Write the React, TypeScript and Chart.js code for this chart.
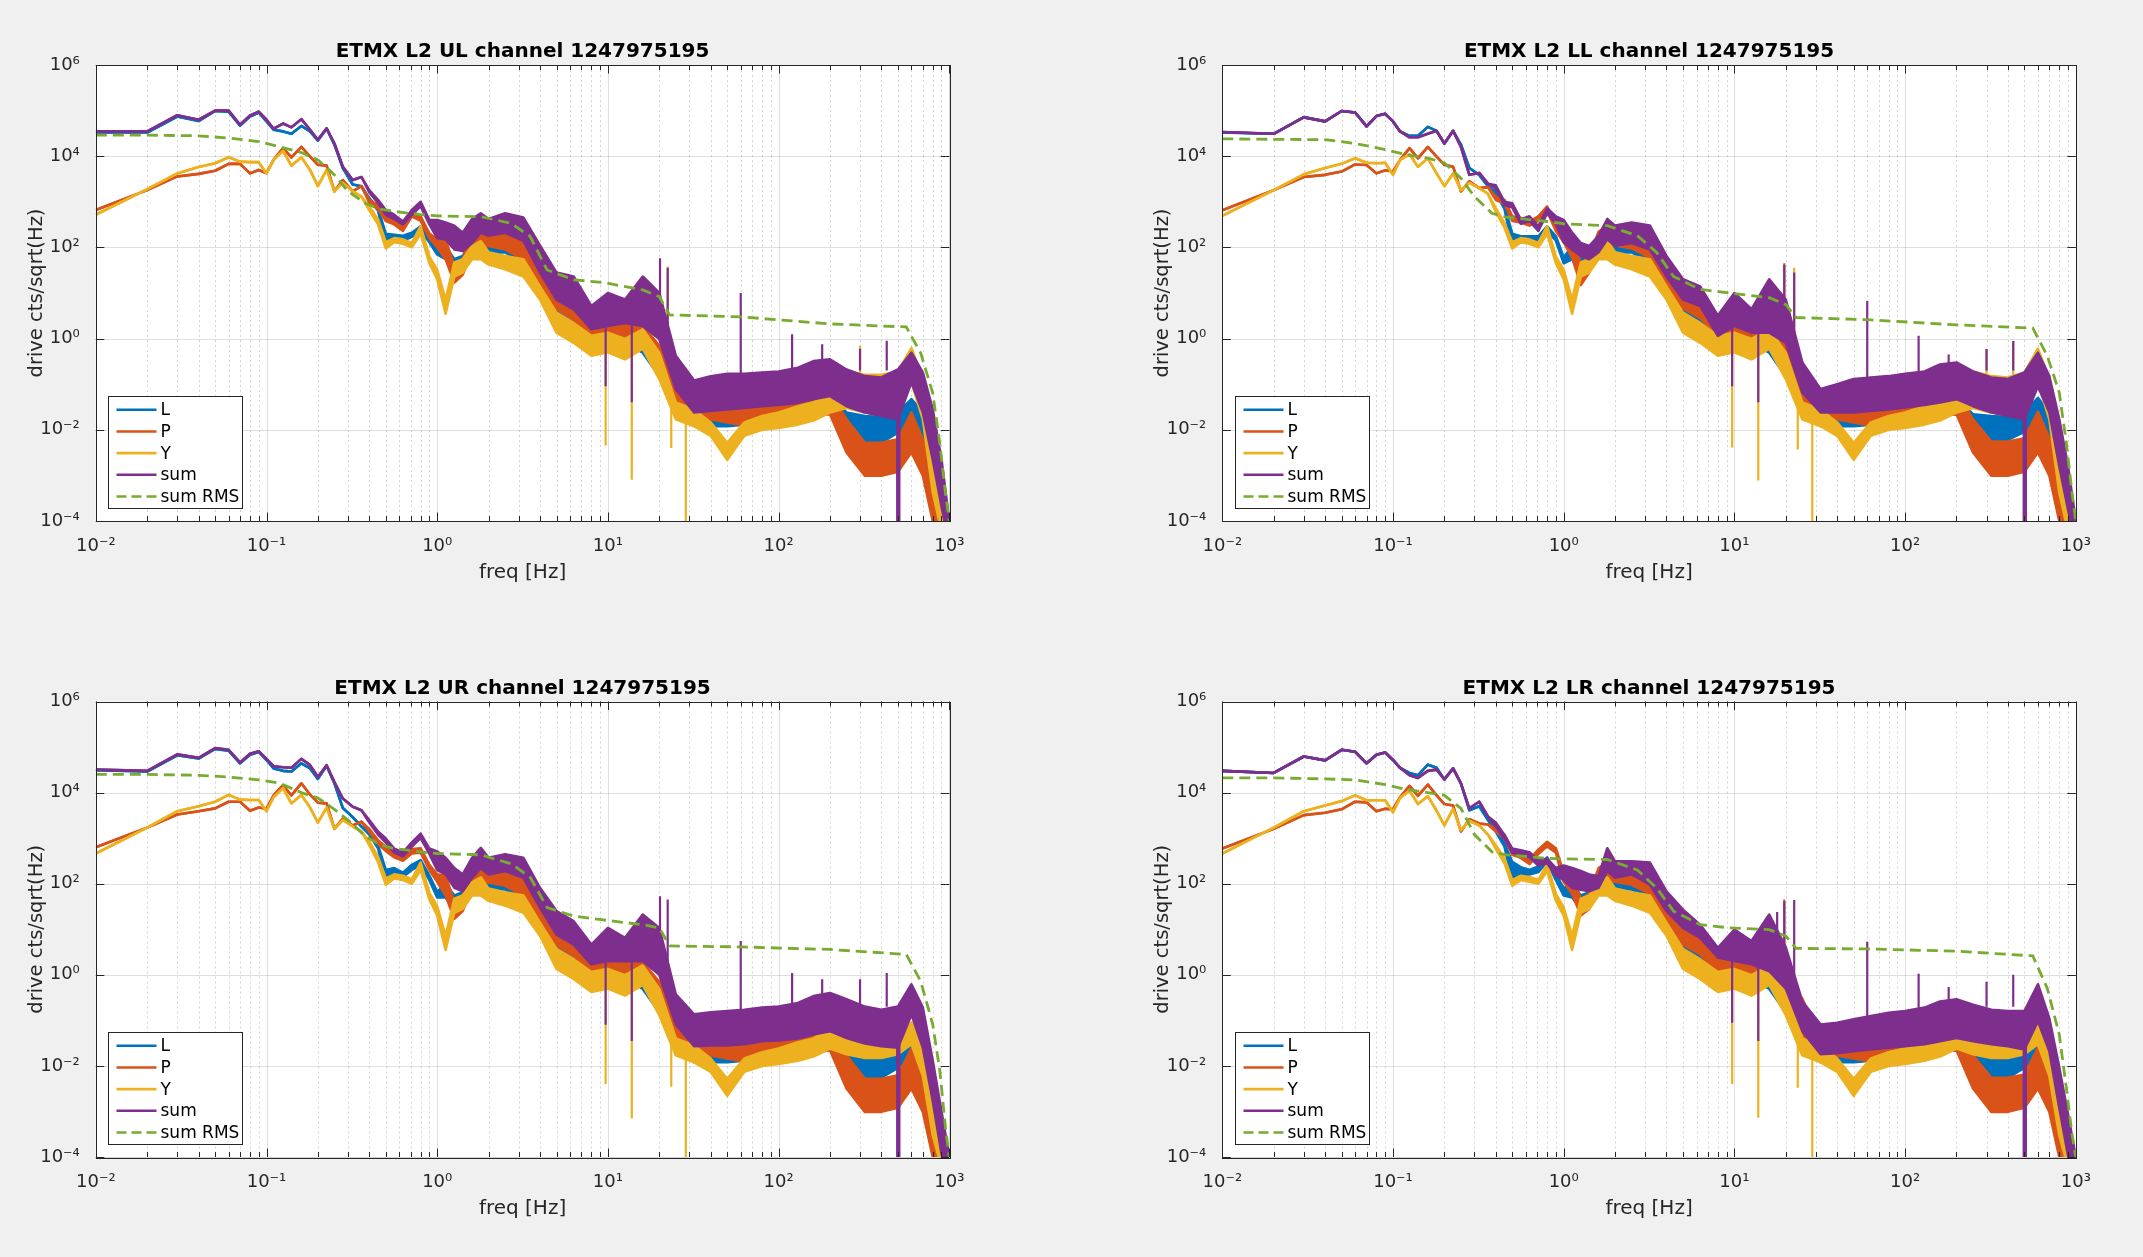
import React, { useEffect, useRef } from "react";
import { Chart, registerables } from "chart.js";

Chart.register(...registerables);

// ---------------- shared axes / labels ----------------
const FREQ = [
  0.01, 0.02, 0.03, 0.04, 0.05, 0.06, 0.07, 0.08, 0.09, 0.1,
  0.11, 0.125, 0.14, 0.16, 0.18, 0.2, 0.225, 0.25, 0.28, 0.32,
  0.36, 0.4, 0.45, 0.5, 0.56, 0.63, 0.71, 0.8, 0.9, 1,
  1.12, 1.26, 1.41, 1.6, 1.8, 2, 2.5, 3.2, 4, 5,
  6.3, 8, 10, 12.6, 16, 20, 25, 32, 40, 50,
  63, 80, 100, 130, 160, 200, 250, 320, 400, 500,
  600, 700, 800, 900, 1000,
];
const RMS_FREQ = [0.01, 0.02, 0.04, 0.06, 0.09, 0.12, 0.16, 0.2, 0.25, 0.3, 0.38, 0.46, 0.55, 0.8, 1, 1.8, 2.7, 3.5, 4.4, 6.3, 9.4, 16, 20, 23, 60, 200, 560, 680, 800, 880, 950, 1000];
const X_TICKS = [0.01, 0.1, 1, 10, 100, 1000];
const X_TICK_LABELS = ["10⁻²", "10⁻¹", "10⁰", "10¹", "10²", "10³"];
const Y_TICKS = [1e-4, 1e-2, 1, 1e2, 1e4, 1e6];
const Y_TICK_LABELS = ["10⁻⁴", "10⁻²", "10⁰", "10²", "10⁴", "10⁶"];
const SERIES_NAMES = ["L", "P", "Y", "sum", "sum RMS"];
const COLORS = ["#0072BD", "#D95319", "#EDB120", "#7E2F8E", "#77AC30"];
const TITLES = [
  "ETMX L2 UL channel 1247975195",
  "ETMX L2 LL channel 1247975195",
  "ETMX L2 UR channel 1247975195",
  "ETMX L2 LR channel 1247975195",
];
const X_LABEL = "freq [Hz]";
const Y_LABEL = "drive cts/sqrt(Hz)";

// ---------------- UL ----------------
// *_LINE: 0.01..0.32 Hz (single trace); *_TOP / *_BOT: 0.36..1000 Hz envelope of the noisy trace
const UL_L_LINE = [3.3e4, 3.3e4, 7.4e4, 5.9e4, 9.8e4, 9.5e4, 4.7e4, 7.4e4, 9.1e4, 5.8e4, 3.8e4, 3.5e4, 3.1e4, 4.6e4, 3.5e4, 2.2e4, 4.0e4, 1.8e4, 5.5e3, 2.4e3];
const UL_L_TOP = [2.2e3, 1.2e3, 720, 200, 190, 180, 210, 290, 160, 110, 107, 55, 65, 140, 180, 150, 150, 107, 39, 10, 4.4, 1.9, 3.2, 2.2, 1.35, 0.49, 0.078, 0.028, 0.028, 0.028, 0.028, 0.031, 0.031, 0.033, 0.04, 0.055, 0.024, 0.02, 0.019, 0.024, 0.047, 0.024, 0.0032, 4.2e-4, 5e-5];
const UL_L_BOT = [2.2e3, 1.1e3, 650, 105, 150, 140, 170, 230, 130, 70, 55, 28, 35, 65, 90, 75, 78, 47, 17, 3.7, 1.9, 0.59, 1.15, 0.81, 0.49, 0.15, 0.033, 0.012, 0.012, 0.012, 0.013, 0.0145, 0.015, 0.016, 0.02, 0.024, 0.01, 0.0052, 0.0052, 0.0087, 0.0145, 0.0045, 4.2e-4, 1e-4, 2e-5];
const UL_P_LINE = [660, 1.8e3, 3.6e3, 4.1e3, 4.8e3, 6.8e3, 6.8e3, 4.2e3, 5.0e3, 4.3e3, 8.3e3, 1.5e4, 9.4e3, 1.6e4, 9.8e3, 6.5e3, 6.2e3, 1.7e3, 3.0e3, 1.7e3];
const UL_P_TOP = [2.2e3, 1.1e3, 850, 480, 400, 290, 620, 480, 200, 150, 150, 39, 55, 210, 295, 250, 210, 150, 39, 12, 7.2, 2.6, 3.7, 2.6, 1.9, 0.7, 0.11, 0.033, 0.04, 0.033, 0.028, 0.033, 0.033, 0.039, 0.047, 0.066, 0.017, 0.0052, 0.0052, 0.0062, 0.024, 0.0062, 9.8e-4, 1.8e-4, 3e-5];
const UL_P_BOT = [2.2e3, 950, 700, 380, 320, 230, 480, 380, 160, 100, 55, 17, 25, 78, 107, 107, 90, 55, 14, 4.4, 2.6, 1.0, 1.3, 1.0, 0.7, 0.24, 0.033, 0.0145, 0.017, 0.0145, 0.0125, 0.0125, 0.0145, 0.017, 0.02, 0.022, 0.0032, 9.8e-4, 9.8e-4, 0.0012, 0.0032, 9.8e-4, 1e-4, 5e-5, 1e-5];
const UL_Y_LINE = [520, 1.9e3, 4.2e3, 5.8e3, 7.0e3, 9.5e3, 7.6e3, 7.4e3, 7.4e3, 4.2e3, 8.3e3, 1.3e4, 6.2e3, 9.5e3, 5.0e3, 2.2e3, 5.0e3, 1.7e3, 2.6e3, 1.7e3];
const UL_Y_TOP = [1.3e3, 790, 410, 130, 160, 150, 125, 290, 63, 32, 7.2, 47, 55, 107, 138, 78, 65, 55, 14, 3.7, 2.2, 1.15, 1.35, 0.98, 1.6, 0.49, 0.04, 0.028, 0.0145, 0.0052, 0.0145, 0.02, 0.024, 0.033, 0.04, 0.066, 0.2, 0.16, 0.16, 0.19, 0.62, 0.13, 0.0052, 2.5e-4, 3e-5];
const UL_Y_BOT = [1.3e3, 650, 320, 95, 130, 120, 100, 200, 45, 20, 3.5, 23, 28, 55, 55, 42, 33, 23, 7.2, 1.35, 0.81, 0.42, 0.5, 0.35, 0.6, 0.13, 0.017, 0.012, 0.0074, 0.0022, 0.0074, 0.01, 0.011, 0.013, 0.016, 0.024, 0.03, 0.024, 0.024, 0.024, 0.11, 0.017, 4.2e-4, 6e-5, 1e-5];
const UL_S_LINE = [3.5e4, 3.5e4, 7.9e4, 6.3e4, 1.0e5, 1.0e5, 4.9e4, 7.8e4, 9.5e4, 6.3e4, 4.0e4, 5.2e4, 4.3e4, 6.5e4, 3.8e4, 2.3e4, 4.1e4, 1.9e4, 5.9e3, 3.0e3];
const UL_S_TOP = [3.5e3, 1.8e3, 1.1e3, 660, 520, 370, 660, 1.0e3, 400, 400, 350, 300, 210, 420, 560, 420, 560, 450, 110, 28, 23, 5.2, 10, 7.2, 23, 10, 0.42, 0.12, 0.15, 0.17, 0.17, 0.18, 0.19, 0.23, 0.32, 0.35, 0.21, 0.15, 0.14, 0.21, 0.49, 0.18, 0.028, 0.0022, 1e-4];
const UL_S_BOT = [3.5e3, 1.6e3, 950, 520, 420, 320, 520, 800, 320, 160, 150, 90, 83, 125, 210, 180, 210, 140, 28, 7.2, 4.4, 1.6, 1.9, 2.2, 1.9, 0.98, 0.078, 0.024, 0.026, 0.028, 0.03, 0.033, 0.035, 0.039, 0.047, 0.055, 0.033, 0.024, 0.02, 0.017, 0.11, 0.024, 0.0022, 2.1e-4, 3e-5];
const UL_S_SPK_F = [9.7, 13.8, 20.2, 22.4, 60, 120, 180, 300, 430, 495, 510];
const UL_S_SPK_LO = [0.09, 0.04, 1, 1, 0.1, 0.1, 0.2, 0.2, 0.2, 1e-5, 1e-5];
const UL_S_SPK_HI = [2, 2, 58, 36, 10, 1.25, 0.75, 0.6, 0.9, 0.1, 0.1];
const UL_Y_SPK_F = [9.7, 13.8, 22.4, 23.5, 28.6, 300];
const UL_Y_SPK_LO = [0.0045, 8e-4, 0.3, 0.004, 1e-5, 0.1];
const UL_Y_SPK_HI = [0.5, 0.5, 38, 0.05, 0.03, 0.7];
const UL_RMS = [2.9e4, 2.9e4, 2.8e4, 2.5e4, 2.1e4, 1.6e4, 1.2e4, 8.3e3, 3.9e3, 1.7e3, 930, 690, 620, 525, 490, 470, 340, 175, 32, 19.5, 17, 11.7, 8.3, 3.3, 3.0, 2.1, 1.8, 0.48, 0.063, 0.005, 4e-4, 1e-4];

// ---------------- LL ----------------
const LL_L_LINE = [3.3e4, 3.1e4, 7.2e4, 5.8e4, 9.8e4, 9.1e4, 4.5e4, 7.6e4, 8.5e4, 5.8e4, 3.5e4, 2.8e4, 2.8e4, 4.4e4, 3.6e4, 1.9e4, 3.6e4, 1.8e4, 5.5e3, 3.9e3];
const LL_L_TOP = [2.2e3, 1.7e3, 790, 200, 175, 175, 175, 290, 175, 60, 107, 60, 65, 140, 180, 150, 150, 107, 39, 10, 4.4, 1.9, 3.2, 2.2, 1.35, 0.49, 0.078, 0.028, 0.028, 0.028, 0.028, 0.031, 0.031, 0.033, 0.04, 0.05, 0.022, 0.02, 0.019, 0.024, 0.05, 0.024, 0.0032, 4.2e-4, 5e-5];
const LL_L_BOT = [2.2e3, 1.5e3, 700, 105, 130, 140, 140, 230, 140, 45, 55, 30, 35, 65, 90, 75, 78, 47, 17, 3.7, 1.9, 0.59, 1.15, 0.81, 0.49, 0.15, 0.033, 0.012, 0.012, 0.012, 0.013, 0.0145, 0.015, 0.016, 0.02, 0.022, 0.009, 0.006, 0.006, 0.009, 0.015, 0.0045, 4.2e-4, 1e-4, 2e-5];
const LL_P_LINE = [650, 1.8e3, 3.5e3, 3.9e3, 4.6e3, 6.6e3, 6.4e3, 4.2e3, 4.9e3, 4.6e3, 8.3e3, 1.5e4, 9.0e3, 1.6e4, 9.8e3, 6.5e3, 5.9e3, 1.7e3, 2.8e3, 2.0e3];
const LL_P_TOP = [2.1e3, 1.3e3, 1.1e3, 480, 440, 370, 480, 790, 290, 200, 160, 45, 60, 220, 300, 260, 240, 170, 45, 13, 8, 3, 3.7, 2.8, 2.2, 0.8, 0.3, 0.035, 0.04, 0.033, 0.03, 0.033, 0.035, 0.04, 0.047, 0.07, 0.017, 0.0055, 0.0055, 0.0065, 0.025, 0.0065, 9.8e-4, 1.8e-4, 3e-5];
const LL_P_BOT = [2.1e3, 1.1e3, 900, 380, 350, 300, 380, 620, 230, 130, 60, 15, 28, 80, 110, 110, 95, 60, 15, 4.6, 2.8, 1.1, 1.4, 1.1, 0.75, 0.26, 0.035, 0.0145, 0.017, 0.0145, 0.0125, 0.0125, 0.0145, 0.017, 0.02, 0.022, 0.0032, 9.8e-4, 9.8e-4, 0.0012, 0.0032, 9.8e-4, 1e-4, 5e-5, 1e-5];
const LL_Y_LINE = [490, 1.8e3, 4.0e3, 5.5e3, 6.8e3, 9.0e3, 7.2e3, 7.0e3, 7.2e3, 3.9e3, 8.3e3, 1.1e4, 5.9e3, 9.0e3, 4.2e3, 2.2e3, 4.2e3, 1.8e3, 2.6e3, 2.0e3];
const LL_Y_TOP = [1.5e3, 730, 340, 130, 160, 150, 125, 290, 63, 32, 7.2, 47, 55, 107, 138, 78, 65, 55, 14, 3.7, 2.2, 1.15, 1.35, 0.98, 1.6, 0.49, 0.04, 0.028, 0.0145, 0.0052, 0.0145, 0.02, 0.024, 0.033, 0.04, 0.066, 0.19, 0.15, 0.14, 0.18, 0.6, 0.13, 0.0052, 2.5e-4, 3e-5];
const LL_Y_BOT = [1.5e3, 600, 270, 95, 130, 120, 100, 200, 45, 20, 3.5, 23, 28, 55, 55, 42, 33, 23, 7.2, 1.35, 0.81, 0.42, 0.5, 0.35, 0.6, 0.13, 0.017, 0.012, 0.0074, 0.0022, 0.0074, 0.01, 0.011, 0.013, 0.016, 0.024, 0.03, 0.024, 0.024, 0.024, 0.11, 0.017, 4.2e-4, 6e-5, 1e-5];
const LL_S_LINE = [3.4e4, 3.1e4, 7.1e4, 5.8e4, 9.8e4, 9.1e4, 4.5e4, 7.6e4, 8.5e4, 5.8e4, 3.5e4, 2.6e4, 2.6e4, 3.1e4, 3.6e4, 1.9e4, 3.6e4, 1.6e4, 3.9e3, 4.3e3];
const LL_S_TOP = [2.5e3, 2.3e3, 1.0e3, 930, 410, 480, 290, 720, 480, 400, 210, 125, 107, 180, 420, 300, 350, 300, 65, 20, 14, 3.2, 10, 4.4, 20, 7.2, 0.3, 0.078, 0.1, 0.13, 0.14, 0.15, 0.17, 0.19, 0.27, 0.3, 0.19, 0.14, 0.13, 0.18, 0.49, 0.15, 0.017, 0.0016, 1e-4];
const LL_S_BOT = [2.5e3, 2.0e3, 850, 750, 330, 380, 230, 560, 330, 130, 90, 65, 55, 78, 150, 107, 125, 90, 23, 7.2, 5.2, 1.15, 1.9, 1.35, 1.35, 0.81, 0.066, 0.024, 0.024, 0.024, 0.026, 0.028, 0.031, 0.035, 0.04, 0.047, 0.033, 0.024, 0.02, 0.017, 0.09, 0.024, 0.0016, 1.8e-4, 3e-5];
const LL_S_SPK_F = [9.7, 13.8, 19.6, 22.4, 60, 120, 180, 300, 430, 495, 510];
const LL_S_SPK_LO = [0.09, 0.04, 1, 1, 0.1, 0.1, 0.2, 0.2, 0.2, 1e-5, 1e-5];
const LL_S_SPK_HI = [2, 2, 41, 28, 6.7, 1.15, 0.45, 0.59, 0.89, 0.1, 0.1];
const LL_P_SPK_F = [19.6];
const LL_P_SPK_LO = [1];
const LL_P_SPK_HI = [45];
const LL_Y_SPK_F = [9.7, 13.8, 22.4, 23.5, 28.6, 300, 430];
const LL_Y_SPK_LO = [0.0041, 7.7e-4, 0.3, 0.0037, 1e-5, 0.1, 0.1];
const LL_Y_SPK_HI = [0.5, 0.5, 36, 0.05, 0.03, 0.59, 0.89];
const LL_RMS = [2.4e4, 2.35e4, 2.3e4, 1.9e4, 1.4e4, 1.07e4, 9.1e3, 7.1e3, 3.3e3, 1.3e3, 560, 460, 430, 370, 330, 300, 180, 78, 23, 12, 10, 7.9, 5.6, 2.9, 2.6, 2.0, 1.7, 0.42, 0.066, 0.0052, 4.2e-4, 1e-4];

// ---------------- UR ----------------
const UR_L_LINE = [3.1e4, 2.9e4, 6.6e4, 5.6e4, 9.1e4, 8.3e4, 4.4e4, 6.8e4, 7.8e4, 5.2e4, 3.4e4, 3.0e4, 2.9e4, 4.4e4, 3.4e4, 2.0e4, 3.9e4, 1.6e4, 4.6e3, 2.9e3];
const UR_L_TOP = [1.8e3, 1.4e3, 700, 200, 220, 175, 260, 330, 150, 66, 100, 55, 65, 130, 175, 150, 140, 100, 35, 10, 4.4, 1.9, 3.2, 2.2, 1.35, 0.49, 0.078, 0.028, 0.028, 0.028, 0.028, 0.031, 0.031, 0.033, 0.04, 0.05, 0.02, 0.02, 0.02, 0.025, 0.066, 0.03, 0.004, 5e-4, 5e-5];
const UR_L_BOT = [1.8e3, 1.2e3, 600, 110, 170, 140, 200, 260, 120, 50, 50, 28, 35, 65, 90, 75, 75, 45, 15, 3.7, 1.9, 0.59, 1.15, 0.81, 0.49, 0.15, 0.033, 0.012, 0.012, 0.012, 0.013, 0.0145, 0.015, 0.016, 0.02, 0.022, 0.009, 0.0055, 0.0055, 0.009, 0.02, 0.006, 5e-4, 1e-4, 2e-5];
const UR_P_LINE = [630, 1.7e3, 3.3e3, 3.9e3, 4.5e3, 6.3e3, 6.3e3, 4.0e3, 4.7e3, 4.4e3, 8.7e3, 1.45e4, 8.7e3, 1.6e4, 9.0e3, 6.0e3, 5.8e3, 1.6e3, 2.7e3, 1.9e3];
const UR_P_TOP = [2.3e3, 1.6e3, 900, 650, 480, 400, 580, 600, 260, 160, 150, 40, 55, 210, 300, 250, 210, 150, 39, 12, 7.2, 2.6, 3.7, 2.6, 1.9, 0.7, 0.11, 0.033, 0.04, 0.033, 0.028, 0.033, 0.033, 0.039, 0.047, 0.066, 0.017, 0.0052, 0.0052, 0.0062, 0.024, 0.0062, 9.8e-4, 1.8e-4, 3e-5];
const UR_P_BOT = [2.3e3, 1.4e3, 750, 520, 380, 320, 460, 480, 200, 110, 55, 17, 25, 78, 107, 107, 90, 55, 14, 4.4, 2.6, 1.0, 1.3, 1.0, 0.7, 0.24, 0.033, 0.0145, 0.017, 0.0145, 0.0125, 0.0125, 0.0145, 0.017, 0.02, 0.022, 0.0032, 9.8e-4, 9.8e-4, 0.0012, 0.0032, 9.8e-4, 1e-4, 5e-5, 1e-5];
const UR_Y_LINE = [460, 1.7e3, 3.9e3, 5.0e3, 6.3e3, 8.9e3, 7.0e3, 6.9e3, 6.9e3, 3.9e3, 7.9e3, 1.25e4, 5.8e3, 8.9e3, 4.7e3, 2.2e3, 4.7e3, 1.6e3, 2.5e3, 1.8e3];
const UR_Y_TOP = [1.4e3, 850, 390, 130, 160, 150, 125, 290, 63, 32, 7.2, 47, 55, 107, 138, 78, 65, 55, 14, 3.7, 2.2, 1.15, 1.35, 0.98, 1.6, 0.49, 0.04, 0.028, 0.0145, 0.0052, 0.0145, 0.02, 0.024, 0.033, 0.04, 0.066, 0.045, 0.035, 0.035, 0.04, 0.09, 0.03, 0.003, 2.5e-4, 3e-5];
const UR_Y_BOT = [1.4e3, 700, 300, 95, 130, 120, 100, 200, 45, 20, 3.5, 23, 28, 55, 55, 42, 33, 23, 7.2, 1.35, 0.81, 0.42, 0.5, 0.35, 0.6, 0.13, 0.017, 0.012, 0.0074, 0.0022, 0.0074, 0.01, 0.011, 0.013, 0.016, 0.024, 0.018, 0.015, 0.015, 0.018, 0.03, 0.006, 3e-4, 6e-5, 1e-5];
const UR_S_LINE = [3.2e4, 3.0e4, 6.9e4, 5.8e4, 9.5e4, 8.7e4, 4.6e4, 7.1e4, 8.1e4, 5.5e4, 3.8e4, 3.6e4, 3.5e4, 5.5e4, 4.0e4, 2.2e4, 4.0e4, 1.7e4, 7.4e3, 4.9e3];
const UR_S_TOP = [4.1e3, 2.5e3, 1.4e3, 980, 590, 490, 810, 1.26e3, 590, 510, 370, 220, 160, 370, 610, 370, 440, 370, 81, 25, 15, 4.6, 10.7, 6.5, 21, 10.7, 0.37, 0.135, 0.15, 0.16, 0.17, 0.19, 0.2, 0.24, 0.34, 0.4, 0.29, 0.2, 0.17, 0.2, 0.62, 0.19, 0.013, 0.001, 1e-4];
const UR_S_BOT = [4.1e3, 2.2e3, 1.2e3, 800, 480, 400, 650, 1.0e3, 450, 200, 160, 81, 68, 135, 220, 160, 190, 135, 30, 7.6, 4.6, 1.7, 2.0, 2.0, 2.0, 1.0, 0.081, 0.027, 0.028, 0.028, 0.03, 0.035, 0.036, 0.04, 0.049, 0.058, 0.041, 0.031, 0.027, 0.025, 0.135, 0.025, 0.0017, 1.2e-4, 3e-5];
const UR_S_SPK_F = [9.7, 13.8, 20.2, 22.4, 60, 120, 180, 300, 430, 495, 510];
const UR_S_SPK_LO = [0.08, 0.035, 1, 1, 0.1, 0.1, 0.2, 0.2, 0.2, 1e-5, 1e-5];
const UR_S_SPK_HI = [2, 2, 53, 45, 5.5, 1.1, 0.8, 0.8, 1.1, 0.1, 0.1];
const UR_Y_SPK_F = [9.7, 13.8, 23.5, 28.6];
const UR_Y_SPK_LO = [0.004, 7e-4, 0.0035, 1e-5];
const UR_Y_SPK_HI = [0.5, 0.5, 0.05, 0.03];
const UR_RMS = [2.5e4, 2.5e4, 2.4e4, 2.2e4, 1.9e4, 1.6e4, 1.0e4, 7.6e3, 4.3e3, 2.5e3, 1.1e3, 720, 600, 500, 460, 430, 275, 140, 30, 19.5, 16, 12.6, 10.7, 4.3, 4.1, 3.6, 2.8, 0.72, 0.081, 0.0078, 4.4e-4, 1e-4];

// ---------------- LR ----------------
const LR_L_LINE = [3.0e4, 2.7e4, 6.2e4, 5.1e4, 8.7e4, 7.9e4, 4.4e4, 6.8e4, 7.6e4, 5.2e4, 3.5e4, 2.7e4, 2.4e4, 4.1e4, 3.5e4, 1.95e4, 3.4e4, 1.6e4, 4.1e3, 5.0e3];
const LR_L_TOP = [2.5e3, 1.6e3, 750, 300, 230, 200, 240, 380, 160, 80, 100, 55, 65, 130, 175, 150, 140, 100, 35, 10, 4.4, 1.9, 3.2, 2.2, 1.35, 0.49, 0.078, 0.028, 0.028, 0.028, 0.028, 0.031, 0.031, 0.033, 0.04, 0.05, 0.02, 0.02, 0.02, 0.025, 0.066, 0.03, 0.004, 5e-4, 5e-5];
const LR_L_BOT = [2.5e3, 1.4e3, 650, 110, 150, 160, 180, 300, 120, 55, 50, 28, 35, 65, 90, 75, 75, 45, 15, 3.7, 1.9, 0.59, 1.15, 0.81, 0.49, 0.15, 0.033, 0.012, 0.012, 0.012, 0.013, 0.0145, 0.015, 0.016, 0.02, 0.022, 0.009, 0.0055, 0.0055, 0.009, 0.02, 0.006, 5e-4, 1e-4, 2e-5];
const LR_P_LINE = [590, 1.6e3, 3.2e3, 3.6e3, 4.3e3, 6.3e3, 6.1e3, 3.9e3, 4.4e3, 4.3e3, 7.9e3, 1.4e4, 8.5e3, 1.5e4, 8.7e3, 5.6e3, 5.2e3, 1.4e3, 2.6e3, 2.1e3];
const LR_P_TOP = [2.0e3, 1.6e3, 1.2e3, 540, 460, 340, 560, 830, 600, 170, 160, 45, 60, 220, 300, 260, 240, 170, 45, 13, 8, 3, 3.7, 2.8, 2.2, 0.8, 0.3, 0.035, 0.04, 0.033, 0.03, 0.033, 0.035, 0.04, 0.047, 0.07, 0.017, 0.0055, 0.0055, 0.0065, 0.025, 0.0065, 9.8e-4, 1.8e-4, 3e-5];
const LR_P_BOT = [2.0e3, 1.4e3, 1.0e3, 430, 370, 270, 450, 660, 480, 110, 60, 20, 28, 80, 110, 110, 95, 60, 15, 4.6, 2.8, 1.1, 1.4, 1.1, 0.75, 0.26, 0.035, 0.0145, 0.017, 0.0145, 0.0125, 0.0125, 0.0145, 0.017, 0.02, 0.022, 0.0032, 9.8e-4, 9.8e-4, 0.0012, 0.0032, 9.8e-4, 1e-4, 5e-5, 1e-5];
const LR_Y_LINE = [460, 1.7e3, 3.9e3, 5.2e3, 6.5e3, 8.7e3, 6.8e3, 6.8e3, 6.8e3, 3.7e3, 7.6e3, 1.1e4, 5.6e3, 8.3e3, 4.0e3, 1.9e3, 4.4e3, 1.5e3, 2.4e3, 1.9e3];
const LR_Y_TOP = [1.2e3, 700, 360, 120, 150, 140, 120, 270, 60, 30, 7.2, 47, 55, 107, 138, 78, 65, 55, 14, 3.7, 2.2, 1.15, 1.35, 0.98, 1.6, 0.49, 0.04, 0.028, 0.0145, 0.0052, 0.0145, 0.02, 0.024, 0.033, 0.04, 0.066, 0.05, 0.04, 0.04, 0.045, 0.1, 0.03, 0.003, 2.5e-4, 3e-5];
const LR_Y_BOT = [1.2e3, 580, 280, 90, 120, 110, 100, 190, 42, 20, 3.5, 23, 28, 55, 55, 42, 33, 23, 7.2, 1.35, 0.81, 0.42, 0.5, 0.35, 0.6, 0.13, 0.017, 0.012, 0.0074, 0.0022, 0.0074, 0.01, 0.011, 0.013, 0.016, 0.024, 0.018, 0.015, 0.015, 0.018, 0.03, 0.006, 3e-4, 6e-5, 1e-5];
const LR_S_LINE = [3.0e4, 2.7e4, 6.2e4, 5.1e4, 8.7e4, 7.9e4, 4.4e4, 6.8e4, 7.6e4, 5.2e4, 3.5e4, 2.4e4, 2.1e4, 3.0e4, 3.2e4, 1.95e4, 3.4e4, 1.6e4, 4.5e3, 6.3e3];
const LR_S_TOP = [3.0e3, 2.2e3, 1.17e3, 590, 540, 490, 320, 355, 220, 250, 220, 190, 160, 145, 600, 310, 310, 290, 68, 27, 12.6, 3.9, 9.8, 5.5, 21, 4.0, 0.26, 0.081, 0.088, 0.105, 0.124, 0.147, 0.16, 0.19, 0.26, 0.29, 0.22, 0.17, 0.16, 0.16, 0.62, 0.11, 0.0092, 8.7e-4, 1e-4];
const LR_S_BOT = [3.0e3, 1.8e3, 950, 480, 430, 380, 250, 280, 150, 120, 81, 74, 68, 81, 190, 135, 160, 95, 25, 10.7, 6.5, 2.4, 2.0, 1.7, 1.2, 0.5, 0.058, 0.018, 0.019, 0.021, 0.023, 0.025, 0.027, 0.03, 0.035, 0.041, 0.035, 0.03, 0.027, 0.023, 0.096, 0.021, 0.0012, 1.1e-4, 3e-5];
const LR_S_SPK_F = [9.7, 13.8, 17.8, 19.6, 22.4, 60, 120, 180, 300, 430, 495, 510];
const LR_S_SPK_LO = [0.089, 0.035, 2, 1, 1, 0.1, 0.1, 0.2, 0.2, 0.2, 1e-5, 1e-5];
const LR_S_SPK_HI = [2, 2, 24, 41, 44, 5.3, 1.05, 0.54, 0.7, 1.0, 0.1, 0.1];
const LR_P_SPK_F = [19.6];
const LR_P_SPK_LO = [1];
const LR_P_SPK_HI = [45];
const LR_Y_SPK_F = [9.7, 13.8, 23.5, 28.6];
const LR_Y_SPK_LO = [0.004, 7.3e-4, 0.0033, 1e-5];
const LR_Y_SPK_HI = [0.5, 0.5, 0.05, 0.03];
const LR_RMS = [2.1e4, 2.1e4, 2.0e4, 1.9e4, 1.5e4, 1.17e4, 1.0e4, 8.7e3, 4.5e3, 1.2e3, 500, 430, 410, 360, 350, 340, 200, 81, 25, 12.6, 10.7, 9.8, 7.1, 3.8, 3.7, 3.3, 2.6, 0.51, 0.049, 0.0033, 3.2e-4, 1e-4];

// ---------------- assembly ----------------
type Spk = { f: number[]; lo: number[]; hi: number[] } | null;
type PanelDef = { title: string; line: number[][]; top: number[][]; bot: number[][]; spikes: Spk[]; rms: number[] };

const PANELS: PanelDef[] = [
  {
    title: TITLES[0],
    line: [UL_L_LINE, UL_P_LINE, UL_Y_LINE, UL_S_LINE],
    top: [UL_L_TOP, UL_P_TOP, UL_Y_TOP, UL_S_TOP],
    bot: [UL_L_BOT, UL_P_BOT, UL_Y_BOT, UL_S_BOT],
    spikes: [null, null, { f: UL_Y_SPK_F, lo: UL_Y_SPK_LO, hi: UL_Y_SPK_HI }, { f: UL_S_SPK_F, lo: UL_S_SPK_LO, hi: UL_S_SPK_HI }],
    rms: UL_RMS,
  },
  {
    title: TITLES[1],
    line: [LL_L_LINE, LL_P_LINE, LL_Y_LINE, LL_S_LINE],
    top: [LL_L_TOP, LL_P_TOP, LL_Y_TOP, LL_S_TOP],
    bot: [LL_L_BOT, LL_P_BOT, LL_Y_BOT, LL_S_BOT],
    spikes: [null, { f: LL_P_SPK_F, lo: LL_P_SPK_LO, hi: LL_P_SPK_HI }, { f: LL_Y_SPK_F, lo: LL_Y_SPK_LO, hi: LL_Y_SPK_HI }, { f: LL_S_SPK_F, lo: LL_S_SPK_LO, hi: LL_S_SPK_HI }],
    rms: LL_RMS,
  },
  {
    title: TITLES[2],
    line: [UR_L_LINE, UR_P_LINE, UR_Y_LINE, UR_S_LINE],
    top: [UR_L_TOP, UR_P_TOP, UR_Y_TOP, UR_S_TOP],
    bot: [UR_L_BOT, UR_P_BOT, UR_Y_BOT, UR_S_BOT],
    spikes: [null, null, { f: UR_Y_SPK_F, lo: UR_Y_SPK_LO, hi: UR_Y_SPK_HI }, { f: UR_S_SPK_F, lo: UR_S_SPK_LO, hi: UR_S_SPK_HI }],
    rms: UR_RMS,
  },
  {
    title: TITLES[3],
    line: [LR_L_LINE, LR_P_LINE, LR_Y_LINE, LR_S_LINE],
    top: [LR_L_TOP, LR_P_TOP, LR_Y_TOP, LR_S_TOP],
    bot: [LR_L_BOT, LR_P_BOT, LR_Y_BOT, LR_S_BOT],
    spikes: [null, { f: LR_P_SPK_F, lo: LR_P_SPK_LO, hi: LR_P_SPK_HI }, { f: LR_Y_SPK_F, lo: LR_Y_SPK_LO, hi: LR_Y_SPK_HI }, { f: LR_S_SPK_F, lo: LR_S_SPK_LO, hi: LR_S_SPK_HI }],
    rms: LR_RMS,
  },
];

// ---------------- layout / style ----------------
type Box = { left: number; top: number; w: number; h: number; L: number; T: number; R: number; B: number };
const BOXES: Box[] = [
  { left: 0, top: 0, w: 1071, h: 628, L: 95.8, T: 65, R: 949.3, B: 521 },
  { left: 1071, top: 0, w: 1072, h: 628, L: 151.3, T: 65, R: 1004.8, B: 521 },
  { left: 0, top: 628, w: 1071, h: 629, L: 95.8, T: 73.5, R: 949.3, B: 529 },
  { left: 1071, top: 628, w: 1072, h: 629, L: 151.3, T: 73.5, R: 1004.8, B: 529 },
];
const FONT = '"DejaVu Sans", "Liberation Sans", sans-serif';
const AXIS_COLOR = "#262626";
const LINE_W = 2.6;
const YW = 80;
const XH = 40;

const framePlugin: any = {
  id: "frame",
  beforeDraw(chart: any) {
    const { ctx, chartArea: a } = chart;
    ctx.save();
    ctx.fillStyle = "#ffffff";
    ctx.fillRect(a.left, a.top, a.right - a.left, a.bottom - a.top);
    ctx.restore();
  },
  beforeDatasetsDraw(chart: any) {
    const { ctx, chartArea: a, scales } = chart;
    const x = scales.x;
    const y = scales.y;
    ctx.save();
    ctx.lineWidth = 1;
    ctx.strokeStyle = "rgba(38,38,38,0.2)";
    ctx.setLineDash([2, 3]);
    for (const d of X_TICKS.slice(0, -1)) {
      for (let m = 2; m <= 9; m++) {
        const px = Math.round(x.getPixelForValue(d * m)) + 0.5;
        ctx.beginPath();
        ctx.moveTo(px, a.top);
        ctx.lineTo(px, a.bottom);
        ctx.stroke();
      }
    }
    ctx.setLineDash([]);
    ctx.strokeStyle = "rgba(38,38,38,0.15)";
    for (const v of X_TICKS) {
      const px = Math.round(x.getPixelForValue(v)) + 0.5;
      ctx.beginPath();
      ctx.moveTo(px, a.top);
      ctx.lineTo(px, a.bottom);
      ctx.stroke();
    }
    for (const v of Y_TICKS) {
      const py = Math.round(y.getPixelForValue(v)) + 0.5;
      ctx.beginPath();
      ctx.moveTo(a.left, py);
      ctx.lineTo(a.right, py);
      ctx.stroke();
    }
    ctx.restore();
  },
  afterDatasetsDraw(chart: any) {
    const { ctx, chartArea: a, scales } = chart;
    const x = scales.x;
    const y = scales.y;
    ctx.save();
    ctx.strokeStyle = AXIS_COLOR;
    ctx.lineWidth = 1;
    const vt = (px: number, len: number) => {
      ctx.beginPath();
      ctx.moveTo(px, a.bottom);
      ctx.lineTo(px, a.bottom - len);
      ctx.moveTo(px, a.top);
      ctx.lineTo(px, a.top + len);
      ctx.stroke();
    };
    for (const d of X_TICKS) {
      vt(Math.round(x.getPixelForValue(d)) + 0.5, 8.5);
      if (d < 1000) for (let m = 2; m <= 9; m++) vt(Math.round(x.getPixelForValue(d * m)) + 0.5, 5);
    }
    for (const v of Y_TICKS) {
      const py = Math.round(y.getPixelForValue(v)) + 0.5;
      ctx.beginPath();
      ctx.moveTo(a.left, py);
      ctx.lineTo(a.left + 8.5, py);
      ctx.moveTo(a.right, py);
      ctx.lineTo(a.right - 8.5, py);
      ctx.stroke();
    }
    ctx.strokeRect(Math.round(a.left) + 0.5, Math.round(a.top) + 0.5, Math.round(a.right - a.left), Math.round(a.bottom - a.top));

    // legend box
    const lx = Math.round(a.left + 12.5) + 0.5;
    const ly = Math.round(a.bottom - 125) + 0.5;
    ctx.fillStyle = "#ffffff";
    ctx.fillRect(lx, ly, 134, 112);
    ctx.strokeStyle = AXIS_COLOR;
    ctx.strokeRect(lx, ly, 134, 112);
    ctx.font = `17px ${FONT}`;
    ctx.textBaseline = "middle";
    ctx.textAlign = "left";
    SERIES_NAMES.forEach((name, i) => {
      const yy = ly + 13.3 + i * 21.67;
      ctx.beginPath();
      ctx.strokeStyle = COLORS[i];
      ctx.lineWidth = 2.6;
      ctx.setLineDash(i === 4 ? [10, 5] : []);
      ctx.moveTo(lx + 8, yy);
      ctx.lineTo(lx + 48, yy);
      ctx.stroke();
      ctx.setLineDash([]);
      ctx.fillStyle = "#000000";
      ctx.fillText(name, lx + 52, yy + 1);
    });
    ctx.restore();
  },
  afterDraw(chart: any, _args: any, opts: any) {
    const { ctx, chartArea: a } = chart;
    const cx = (a.left + a.right) / 2;
    const cy = (a.top + a.bottom) / 2;
    ctx.save();
    ctx.fillStyle = "#000000";
    ctx.textAlign = "center";
    ctx.textBaseline = "middle";
    ctx.font = `bold 20px ${FONT}`;
    ctx.fillText(opts.title, cx, a.top - 13);
    ctx.fillStyle = AXIS_COLOR;
    ctx.font = `20px ${FONT}`;
    ctx.fillText(X_LABEL, cx, a.bottom + 52);
    ctx.translate(a.left - 59, cy);
    ctx.rotate(-Math.PI / 2);
    ctx.font = `19.5px ${FONT}`;
    ctx.fillText(Y_LABEL, 0, 0);
    ctx.restore();
  },
};

function buildConfig(def: PanelDef, box: Box): any {
  const datasets: any[] = [];
  for (let s = 0; s < 4; s++) {
    const color = COLORS[s];
    const order = 5 - s;
    const hi = [...def.line[s], ...def.top[s]];
    const lo = [...def.line[s], ...def.bot[s]];
    const common = { borderColor: color, backgroundColor: color, borderWidth: LINE_W, pointRadius: 0, tension: 0, borderJoinStyle: "round", order, label: SERIES_NAMES[s] };
    datasets.push({ ...common, data: FREQ.map((f, i) => ({ x: f, y: lo[i] })), fill: false });
    datasets.push({ ...common, data: FREQ.map((f, i) => ({ x: f, y: hi[i] })), fill: "-1" });
    const sp = def.spikes[s];
    if (sp) {
      const data: any[] = [];
      sp.f.forEach((f, i) => {
        data.push({ x: f, y: sp.lo[i] }, { x: f, y: sp.hi[i] }, { x: f, y: null });
      });
      datasets.push({ ...common, borderWidth: 2.2, data, fill: false, spanGaps: false });
    }
  }
  datasets.push({
    label: SERIES_NAMES[4],
    data: RMS_FREQ.map((f, i) => ({ x: f, y: def.rms[i] })),
    borderColor: COLORS[4],
    backgroundColor: COLORS[4],
    borderWidth: 2.8,
    borderDash: [11, 6],
    pointRadius: 0,
    tension: 0,
    fill: false,
    order: 0,
  });

  const tickFont = { family: FONT, size: 18 };
  return {
    type: "line",
    data: { datasets },
    plugins: [framePlugin],
    options: {
      animation: false,
      responsive: false,
      events: [],
      layout: { padding: { left: box.L - YW, top: box.T, right: box.w - box.R, bottom: box.h - box.B - XH } },
      plugins: { legend: { display: false }, tooltip: { enabled: false }, title: { display: false }, frame: { title: def.title } },
      scales: {
        x: {
          type: "logarithmic",
          position: "bottom",
          min: 0.01,
          max: 1000,
          afterBuildTicks: (sc: any) => {
            sc.ticks = X_TICKS.map((v) => ({ value: v }));
          },
          afterFit: (sc: any) => {
            sc.height = XH;
          },
          grid: { display: false },
          border: { display: false },
          ticks: { autoSkip: false, maxRotation: 0, padding: 7, color: AXIS_COLOR, font: tickFont, callback: (_v: any, i: number) => X_TICK_LABELS[i] },
        },
        y: {
          type: "logarithmic",
          position: "left",
          min: 1e-4,
          max: 1e6,
          afterBuildTicks: (sc: any) => {
            sc.ticks = Y_TICKS.map((v) => ({ value: v }));
          },
          afterFit: (sc: any) => {
            sc.width = YW;
          },
          grid: { display: false },
          border: { display: false },
          ticks: { autoSkip: false, padding: 8, color: AXIS_COLOR, font: tickFont, callback: (_v: any, i: number) => Y_TICK_LABELS[i] },
        },
      },
    },
  };
}

function Panel({ def, box }: { def: PanelDef; box: Box }) {
  const ref = useRef<HTMLCanvasElement>(null);
  useEffect(() => {
    if (!ref.current) return;
    const chart = new Chart(ref.current, buildConfig(def, box));
    return () => chart.destroy();
  }, [def, box]);
  return (
    <canvas
      ref={ref}
      width={box.w}
      height={box.h}
      style={{ position: "absolute", left: box.left, top: box.top, width: box.w, height: box.h }}
    />
  );
}

export default function App() {
  return (
    <div style={{ position: "fixed", left: 0, top: 0, width: 2143, height: 1257, background: "#f0f0f0", overflow: "hidden" }}>
      {PANELS.map((p, i) => (
        <Panel key={i} def={p} box={BOXES[i]} />
      ))}
    </div>
  );
}
